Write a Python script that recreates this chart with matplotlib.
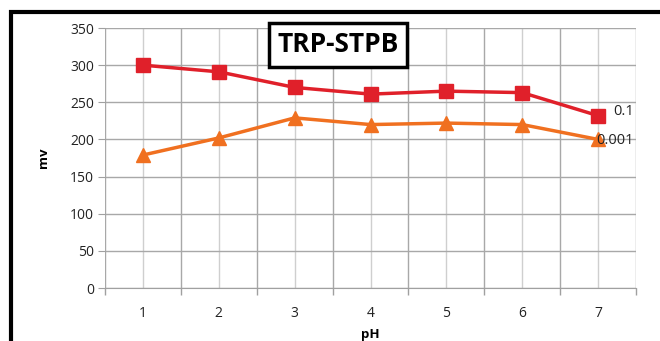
import matplotlib
matplotlib.use("Agg")
import matplotlib.pyplot as plt
from matplotlib.patches import Rectangle

ph = [1, 2, 3, 4, 5, 6, 7]
series_01 = [300, 291, 270, 261, 265, 263, 232]
series_0001 = [179, 202, 229, 220, 222, 220, 200]
yticks = [0, 50, 100, 150, 200, 250, 300, 350]

plt.rcParams['font.family'] = ['Open Sans', 'DejaVu Sans']

W, H = 660, 341
fig = plt.figure(figsize=(W/100, H/100), dpi=100)
ax = fig.add_axes([105/W, 1-288/H, (636-105)/W, (288-28)/H])

ax.set_xlim(0.5, 7.5)
ax.set_ylim(0, 350)
ax.set_yticks(yticks)
ax.set_xticks([x + 0.5 for x in [0] + ph])
ax.set_xticks(ph, minor=True)
ax.set_xticklabels([])
ax.set_xticklabels([str(p) for p in ph], minor=True)
ax.tick_params(axis='x', which='major', length=5, color='#A0A0A0', width=1)
ax.tick_params(axis='x', which='minor', length=0, pad=13, labelsize=10, labelcolor='#222222')
ax.tick_params(axis='y', length=5, color='#A0A0A0', labelsize=10, labelcolor='#222222', pad=3)
ax.grid(True, which='major', color='#A8A8A8', lw=1)
ax.grid(True, which='minor', axis='x', color='#CFCFCF', lw=1)
ax.set_axisbelow(True)
for s in ['top', 'right']:
    ax.spines[s].set_visible(False)
ax.spines['left'].set_visible(False)
ax.spines['bottom'].set_color('#A0A0A0')

ax.plot(ph, series_01, color='#E0202A', lw=2.5, marker='s', ms=10, zorder=3)
ax.plot(ph, series_0001, color='#F07020', lw=2.5, marker='^', ms=10, zorder=3)

ax.text(7.2, series_01[-1] + 5, '0.1', fontsize=10.5, color='#222222', va='center', ha='left')
ax.text(6.98, series_0001[-1] - 2, '0.001', fontsize=10.5, color='#222222', va='center', ha='left')

ax.set_ylabel('mv', fontsize=9.5, fontweight='bold', labelpad=14)
ax.text(0.5, -0.178, 'pH', transform=ax.transAxes, fontsize=9.5, fontweight='bold', ha='center', va='center')

fig.text(338/W, 1-45/H, 'TRP-STPB', fontsize=19, fontweight='bold', ha='center', va='center',
         bbox=dict(boxstyle='square,pad=0.32', fc='white', ec='black', lw=2.5))

fig.patches.append(Rectangle((11/W, -0.1), 1.2, 1-12/H + 0.1, transform=fig.transFigure,
                             fill=False, ec='black', lw=3))

fig.savefig('out.png', dpi=100)
